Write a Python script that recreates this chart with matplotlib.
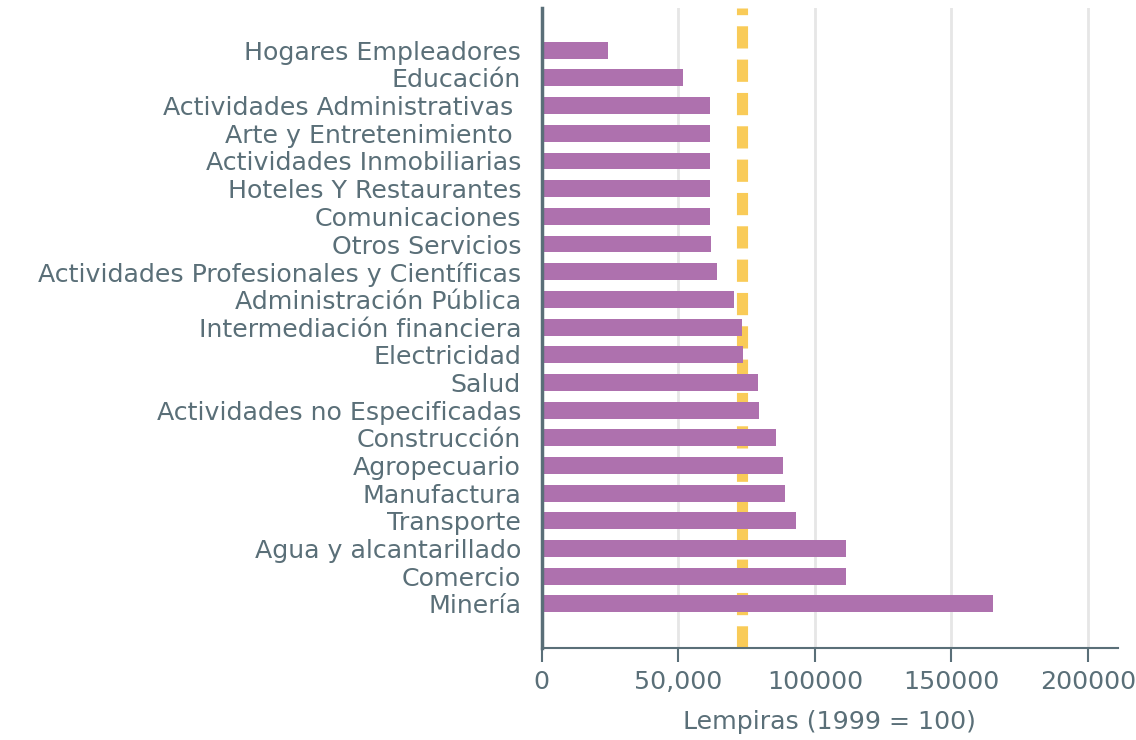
import matplotlib.pyplot as plt

sectores = [
    "Hogares Empleadores", "Educación", "Actividades Administrativas ",
    "Arte y Entretenimiento ", "Actividades Inmobiliarias", "Hoteles Y Restaurantes",
    "Comunicaciones", "Otros Servicios", "Actividades Profesionales y Científicas",
    "Administración Pública", "Intermediación financiera", "Electricidad", "Salud",
    "Actividades no Especificadas", "Construcción", "Agropecuario", "Manufactura",
    "Transporte", "Agua y alcantarillado", "Comercio", "Minería",
]
salarios = [
    24200, 51600, 61500, 61500, 61500, 61500, 61500, 61900, 64100, 70300, 73300,
    73600, 79100, 79500, 85700, 88300, 89000, 93000, 111400, 111400, 165200,
]
promedio = 73300
xticks = [0, 50000, 100000, 150000, 200000]
xtick_labels = ["0", "50,000", "100000", "150000", "200000"]

texto = "#5a6f78"
plt.rcParams['font.family'] = ['DejaVu Sans']

fig = plt.figure(figsize=(11.36, 7.40), dpi=100)
ax = fig.add_axes([0.477, 0.124, 0.507, 0.865])

pos = list(range(len(sectores)))
ax.axvline(promedio, color="#f9cb58", lw=8, dashes=(2.0, 1.0), zorder=1)
ax.barh(pos, salarios, height=0.61, color="#ae71ae", zorder=2)

ax.set_ylim(21.6, -1.52)
ax.set_xlim(0, 211000)
ax.set_yticks(pos)
ax.set_yticklabels(sectores, fontsize=18.2, color=texto)
ax.tick_params(axis="y", length=0, pad=15)
ax.set_xticks(xticks)
ax.set_xticklabels(xtick_labels, fontsize=18.2, color=texto)
ax.tick_params(axis="x", length=10, width=1.5, color=texto, pad=6)
ax.set_xlabel("Lempiras (1999 = 100)", fontsize=18.2, color=texto, labelpad=11)

ax.grid(axis="x", color="#e6e6e6", lw=2, zorder=0)
ax.set_axisbelow(True)
for s in ["top", "right"]:
    ax.spines[s].set_visible(False)
ax.spines["left"].set_color(texto)
ax.spines["left"].set_linewidth(2.5)
ax.spines["bottom"].set_color(texto)
ax.spines["bottom"].set_linewidth(1.5)

fig.savefig("out.png", dpi=100)
